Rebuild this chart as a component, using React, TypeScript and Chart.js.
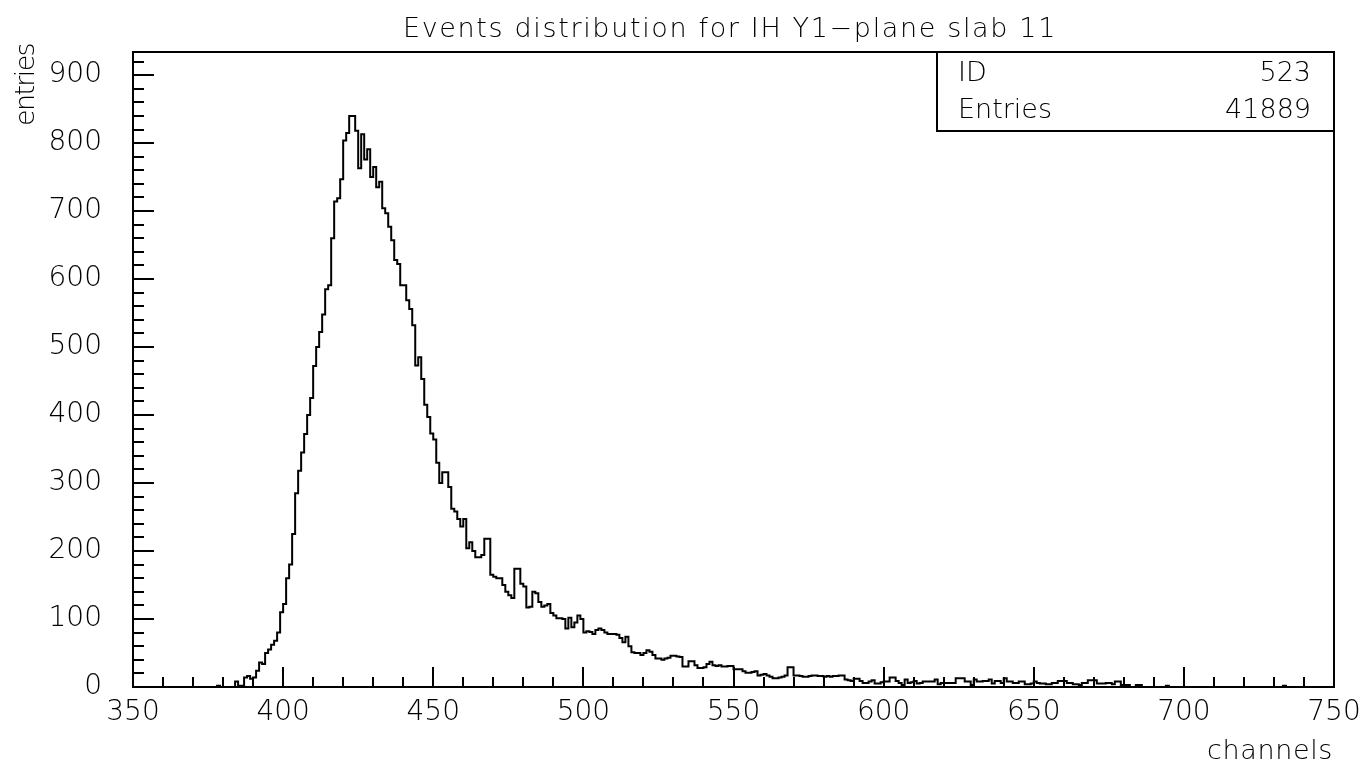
import React, { useEffect, useRef } from "react";
import { Chart, registerables } from "chart.js";

Chart.register(...registerables);

// ---- text ----
const chartTitle = "Events distribution for IH Y1\u2212plane slab 11";
const xAxisTitle = "channels";
const yAxisTitle = "entries";
const statLabels = ["ID", "Entries"];
const statValues = ["523", "41889"];

// ---- axes ----
const xMin = 350;
const xMax = 750;
const xMajorStep = 50;
const xMinorStep = 10;
const yMin = 0;
const yMax = 934;
const yMajorStep = 100;
const yMinorStep = 20;

// ---- histogram: one bin per channel, first bin starts at channel 350 ----
const firstChannel = 350;
const binWidth = 1;
const counts = [
  0, 0, 0, 0, 0, 0, 0, 0, 0, 0, // 350
  0, 0, 0, 0, 0, 0, 0, 0, 0, 0, // 360
  0, 0, 0, 0, 0, 0, 0, 0, 0, 2, // 370
  0, 0, 0, 0, 0, 8, 2, 2, 14, 16, // 380
  12, 14, 24, 36, 34, 50, 55, 62, 68, 80, // 390
  110, 122, 160, 180, 225, 285, 318, 345, 372, 400, // 400
  425, 472, 500, 522, 548, 585, 591, 660, 714, 719, // 410
  747, 804, 815, 840, 840, 818, 763, 813, 776, 791, // 420
  750, 765, 735, 743, 704, 697, 677, 657, 628, 622, // 430
  591, 591, 569, 556, 532, 473, 485, 453, 415, 397, // 440
  373, 364, 330, 300, 316, 316, 294, 262, 258, 247, // 450
  236, 247, 204, 213, 200, 191, 191, 194, 218, 218, // 460
  165, 162, 160, 160, 150, 140, 135, 131, 174, 174, // 470
  152, 148, 117, 118, 140, 138, 125, 118, 120, 122, // 480
  109, 105, 101, 101, 100, 86, 102, 88, 95, 105, // 490
  100, 80, 82, 81, 78, 84, 86, 84, 80, 78, // 500
  78, 78, 77, 72, 66, 74, 60, 51, 50, 50, // 510
  47, 50, 54, 52, 47, 42, 42, 40, 42, 43, // 520
  46, 46, 45, 44, 30, 30, 38, 38, 32, 28, // 530
  28, 29, 34, 37, 32, 31, 32, 30, 30, 31, // 540
  31, 26, 26, 26, 23, 21, 21, 22, 23, 17, // 550
  18, 19, 17, 15, 13, 13, 14, 15, 17, 29, // 560
  29, 17, 17, 16, 15, 15, 16, 17, 17, 16, // 570
  16, 15, 16, 15, 16, 16, 17, 17, 11, 10, // 580
  9, 12, 12, 9, 6, 6, 8, 10, 5, 5, // 590
  7, 8, 8, 14, 14, 9, 6, 3, 11, 6, // 600
  7, 9, 5, 6, 8, 8, 8, 8, 11, 4, // 610
  6, 6, 6, 6, 6, 13, 13, 13, 8, 8, // 620
  3, 11, 8, 8, 9, 9, 11, 5, 9, 9, // 630
  6, 13, 8, 8, 6, 6, 8, 8, 4, 4, // 640
  5, 8, 6, 5, 5, 4, 4, 6, 6, 9, // 650
  9, 9, 6, 6, 4, 4, 3, 6, 6, 10, // 660
  10, 10, 5, 5, 5, 6, 6, 4, 8, 8, // 670
  3, 3, 3, 0, 0, 3, 3, 0, 0, 0, // 680
  0, 0, 0, 0, 0, 2, 0, 0, 0, 0, // 690
  0, 0, 0, 0, 0, 0, 0, 0, 0, 0, // 700
  0, 0, 0, 0, 0, 0, 0, 0, 0, 0, // 710
  0, 0, 0, 0, 0, 0, 0, 0, 0, 0, // 720
  0, 0, 0, 0, 2, 0, 0, 0, 0, 0, // 730
  0, 0, 0, 0, 0, 0, 0, 0, 0, 0, // 740
];

const FONT_FAMILY = "'DejaVu Sans ExtraLight', 'DejaVu Sans', sans-serif";
const FONT_WEIGHT = 200;

function fillSpaced(ctx: any, text: string, x: number, y: number, targetWidth: number) {
  const w = ctx.measureText(text).width;
  if ("letterSpacing" in ctx && text.length > 1) {
    ctx.letterSpacing = `${(targetWidth - w) / text.length}px`;
  }
  ctx.fillText(text, x, y);
  if ("letterSpacing" in ctx) ctx.letterSpacing = "0px";
}

const pawFrame = {
  id: "pawFrame",
  afterDraw(chart: any) {
    const { ctx, chartArea: a, scales } = chart;
    const xs = scales.x;
    const ys = scales.y;
    ctx.save();
    ctx.strokeStyle = "#000";
    ctx.fillStyle = "#000";
    ctx.lineWidth = 2;
    ctx.lineCap = "butt";

    // frame
    ctx.strokeRect(a.left, a.top, a.right - a.left, a.bottom - a.top);

    // x ticks (inward, up from bottom axis)
    ctx.beginPath();
    for (let v = xMin; v <= xMax; v += xMinorStep) {
      const px = Math.round(xs.getPixelForValue(v));
      const len = v % xMajorStep === 0 ? 20 : 10;
      ctx.moveTo(px, a.bottom);
      ctx.lineTo(px, a.bottom - len);
    }
    // y ticks (inward, right from left axis)
    for (let v = yMin; v <= yMax; v += yMinorStep) {
      const py = Math.round(ys.getPixelForValue(v));
      const len = v % yMajorStep === 0 ? 21 : 11;
      ctx.moveTo(a.left, py);
      ctx.lineTo(a.left + len, py);
    }
    ctx.stroke();

    // statistics box
    const boxL = 937;
    const boxB = 131;
    ctx.strokeRect(boxL, a.top, a.right - boxL, boxB - a.top);
    ctx.font = `${FONT_WEIGHT} 27px ${FONT_FAMILY}`;
    ctx.textBaseline = "middle";
    const rowY = [74, 111];
    statLabels.forEach((t, i) => {
      ctx.textAlign = "left";
      ctx.fillText(t, 958, rowY[i]);
      ctx.textAlign = "right";
      ctx.fillText(statValues[i], 1311, rowY[i]);
    });

    // title (left edge 403, right edge 1057)
    ctx.font = `${FONT_WEIGHT} 27px ${FONT_FAMILY}`;
    ctx.textAlign = "left";
    ctx.textBaseline = "alphabetic";
    fillSpaced(ctx, chartTitle, 403, 37, 654);

    // x axis title
    ctx.textAlign = "left";
    fillSpaced(ctx, xAxisTitle, 1207, 759, 126);

    // y axis title (rotated)
    ctx.save();
    ctx.translate(34, 126);
    ctx.rotate(-Math.PI / 2);
    ctx.textAlign = "left";
    ctx.textBaseline = "alphabetic";
    fillSpaced(ctx, yAxisTitle, 0, 0, 82);
    ctx.restore();

    ctx.restore();
  },
};

export default function App() {
  const canvasRef = useRef<HTMLCanvasElement | null>(null);

  useEffect(() => {
    const canvas = canvasRef.current;
    if (!canvas) return;
    const points = counts.map((v, i) => ({ x: firstChannel + i * binWidth, y: v }));
    points.push({ x: firstChannel + counts.length * binWidth, y: counts[counts.length - 1] });

    const tickFont = { family: FONT_FAMILY, size: 28, weight: FONT_WEIGHT as any };

    const chart = new Chart(canvas, {
      type: "line",
      data: {
        datasets: [
          {
            data: points,
            stepped: "after",
            borderColor: "#000",
            borderWidth: 2,
            pointRadius: 0,
            fill: false,
            tension: 0,
          },
        ],
      },
      options: {
        responsive: false,
        animation: false,
        devicePixelRatio: 1,
        layout: { padding: { top: 52, right: 37, left: 0, bottom: 0 } },
        plugins: {
          legend: { display: false },
          tooltip: { enabled: false },
          title: { display: false },
        },
        scales: {
          x: {
            type: "linear",
            min: xMin,
            max: xMax,
            border: { display: false },
            grid: { display: false, drawTicks: false },
            ticks: {
              stepSize: xMajorStep,
              includeBounds: false,
              autoSkip: false,
              maxRotation: 0,
              color: "#000",
              padding: 9,
              font: tickFont,
            },
            afterFit: (s: any) => {
              s.height = 82;
            },
          },
          y: {
            type: "linear",
            min: yMin,
            max: yMax,
            border: { display: false },
            grid: { display: false, drawTicks: false },
            ticks: {
              stepSize: yMajorStep,
              includeBounds: false,
              autoSkip: false,
              color: "#000",
              padding: 31,
              font: tickFont,
            },
            afterFit: (s: any) => {
              s.width = 133;
            },
          },
        },
      },
      plugins: [pawFrame],
    });
    return () => chart.destroy();
  }, []);

  return (
    <div style={{ position: "fixed", left: 0, top: 0, width: 1371, height: 769, background: "#fff" }}>
      <canvas ref={canvasRef} width={1371} height={769} style={{ display: "block" }} />
    </div>
  );
}
